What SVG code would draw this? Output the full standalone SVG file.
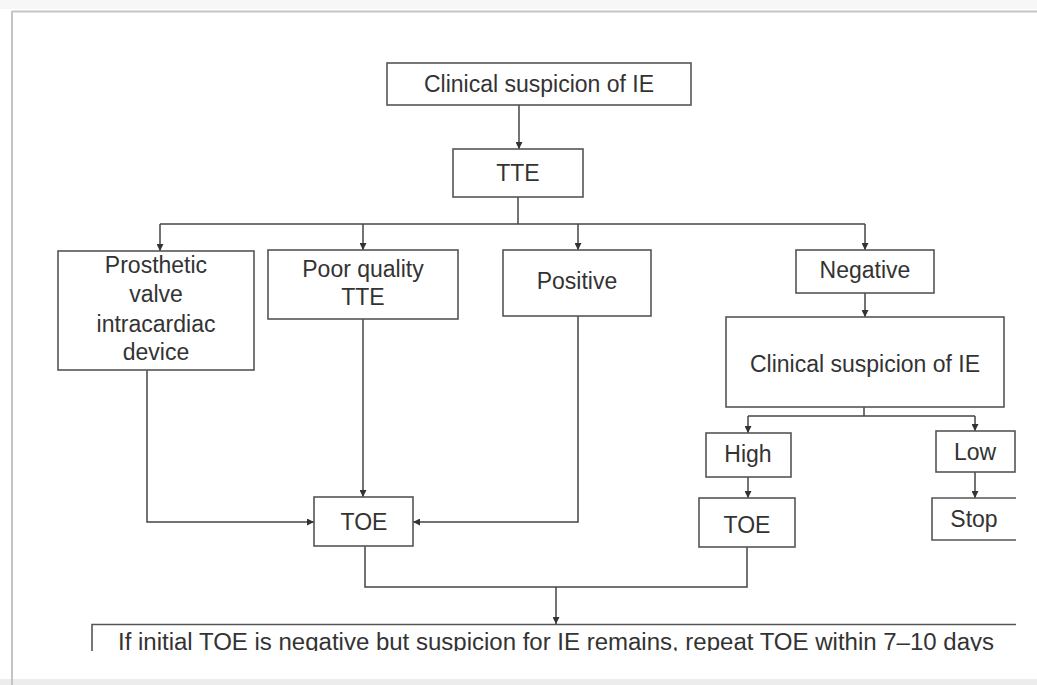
<svg xmlns="http://www.w3.org/2000/svg" width="1037" height="685" viewBox="0 0 1037 685">
  <style>
    .box { fill: #ffffff; stroke: #555555; stroke-width: 1.6; }
    .lbl { font-family: "Liberation Sans", Arial, sans-serif; font-size: 23px; fill: #333333; text-anchor: middle; }
    .wire { fill: none; stroke: #444444; stroke-width: 1.5; }
    .frame { stroke: #c4c4c4; stroke-width: 2; fill: none; }
  </style>
  <defs>
    <marker id="arrow" viewBox="0 0 10 10" refX="10" refY="5" markerWidth="7" markerHeight="7" markerUnits="userSpaceOnUse" orient="auto">
      <path d="M0,0 L10,5 L0,10 z" fill="#333333"/>
    </marker>
    <clipPath id="pageCut">
      <rect x="0" y="0" width="1037" height="651"/>
    </clipPath>
  </defs>

  <!-- page background and frame -->
  <rect x="0" y="0" width="1037" height="685" fill="#ffffff"/>
  <rect x="0" y="0" width="1037" height="9" fill="#f7f7f7"/>
  <rect x="0" y="679" width="1037" height="6" fill="#ececec"/>
  <line class="frame" x1="12" y1="11.5" x2="1037" y2="11.5"/>
  <line class="frame" x1="12" y1="11" x2="12" y2="685"/>

  <!-- connectors -->
  <g id="connectors">
    <line class="wire" x1="519" y1="105" x2="519" y2="149" marker-end="url(#arrow)"/>
    <polyline class="wire" points="518,197 518,224"/>
    <polyline class="wire" points="160,224 865,224"/>
    <line class="wire" x1="160" y1="224" x2="160" y2="251" marker-end="url(#arrow)"/>
    <line class="wire" x1="363" y1="224" x2="363" y2="250" marker-end="url(#arrow)"/>
    <line class="wire" x1="578" y1="224" x2="578" y2="250" marker-end="url(#arrow)"/>
    <line class="wire" x1="865" y1="224" x2="865" y2="250" marker-end="url(#arrow)"/>
    <line class="wire" x1="865" y1="293" x2="865" y2="317" marker-end="url(#arrow)"/>
    <polyline class="wire" points="864,407 864,416"/>
    <polyline class="wire" points="748,416 975,416"/>
    <line class="wire" x1="748" y1="416" x2="748" y2="433" marker-end="url(#arrow)"/>
    <line class="wire" x1="975" y1="416" x2="975" y2="431" marker-end="url(#arrow)"/>
    <line class="wire" x1="748" y1="477" x2="748" y2="498" marker-end="url(#arrow)"/>
    <line class="wire" x1="975" y1="472" x2="975" y2="498" marker-end="url(#arrow)"/>
    <polyline class="wire" points="147,370 147,522 314,522" marker-end="url(#arrow)"/>
    <line class="wire" x1="363" y1="319" x2="363" y2="497" marker-end="url(#arrow)"/>
    <polyline class="wire" points="578,316 578,522 413,522" marker-end="url(#arrow)"/>
    <polyline class="wire" points="365,546 365,587 747,587 747,547"/>
    <line class="wire" x1="556" y1="587" x2="556" y2="624" marker-end="url(#arrow)"/>
  </g>

  <g id="start">
    <rect class="box" x="387" y="63" width="304" height="42"/>
    <text class="lbl" x="539" y="92">Clinical suspicion of IE</text>
  </g>
  <g id="tte">
    <rect class="box" x="453" y="149" width="130" height="48"/>
    <text class="lbl" x="518" y="181">TTE</text>
  </g>
  <g id="prosthetic">
    <rect class="box" x="58" y="251" width="196" height="119"/>
    <text class="lbl" x="156" y="273">Prosthetic</text>
    <text class="lbl" x="156" y="302">valve</text>
    <text class="lbl" x="156" y="332">intracardiac</text>
    <text class="lbl" x="156" y="360">device</text>
  </g>
  <g id="poor-quality">
    <rect class="box" x="268" y="250" width="190" height="69"/>
    <text class="lbl" x="363" y="277">Poor quality</text>
    <text class="lbl" x="363" y="305">TTE</text>
  </g>
  <g id="positive">
    <rect class="box" x="503" y="250" width="148" height="66"/>
    <text class="lbl" x="577" y="289">Positive</text>
  </g>
  <g id="negative">
    <rect class="box" x="796" y="250" width="138" height="43"/>
    <text class="lbl" x="865" y="278">Negative</text>
  </g>
  <g id="suspicion">
    <rect class="box" x="726" y="317" width="278" height="90"/>
    <text class="lbl" x="865" y="372">Clinical suspicion of IE</text>
  </g>
  <g id="high">
    <rect class="box" x="706" y="433" width="85" height="44"/>
    <text class="lbl" x="748" y="462">High</text>
  </g>
  <g id="low">
    <rect class="box" x="936" y="431" width="79" height="41"/>
    <text class="lbl" x="975" y="460">Low</text>
  </g>
  <g id="toe-left">
    <rect class="box" x="314" y="497" width="99" height="49"/>
    <text class="lbl" x="364" y="530">TOE</text>
  </g>
  <g id="toe-right">
    <rect class="box" x="699" y="498" width="96" height="49"/>
    <text class="lbl" x="747" y="533">TOE</text>
  </g>
  <g id="stop">
    <path class="box" d="M1016,498 L932,498 L932,540 L1016,540" />
    <text class="lbl" x="974" y="527">Stop</text>
  </g>
  <g id="repeat" clip-path="url(#pageCut)">
    <path class="box" fill="none" d="M92,651 L92,624.5 L1016,624.5"/>
    <text class="lbl" x="118" y="650" text-anchor="start" style="text-anchor:start" font-size="23" textLength="876" lengthAdjust="spacingAndGlyphs">If initial TOE is negative but suspicion for IE remains, repeat TOE within 7–10 days</text>
  </g>
</svg>
